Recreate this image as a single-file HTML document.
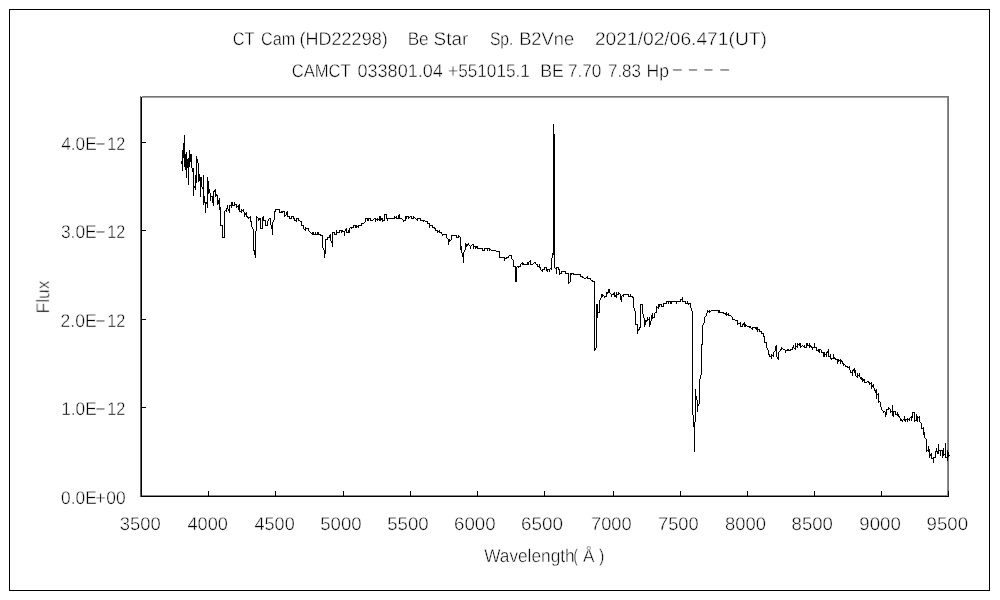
<!DOCTYPE html>
<html lang="en">
<head>
<meta charset="utf-8">
<title>CT Cam (HD22298) Be Star spectrum</title>
<style>
html,body{margin:0;padding:0;background:#fff;}
body{width:1000px;height:600px;overflow:hidden;}
svg{display:block;}
svg text{font-family:"Liberation Sans", "IPAGothic", sans-serif;font-size:18.4px;fill:#000;white-space:pre;stroke:#fff;stroke-width:0.45px;paint-order:fill stroke;text-rendering:geometricPrecision;}
</style>
</head>
<body>
<svg width="1000" height="600" viewBox="0 0 1000 600" shape-rendering="crispEdges">
<rect x="0" y="0" width="1000" height="600" fill="#fff"/>
<!-- outer chart border -->
<rect x="9.5" y="9.5" width="980" height="581" fill="#fff" stroke="#000" stroke-width="1"/>
<!-- plot area frame: grey top/right, black axes -->
<path d="M141 97.5H947" fill="none" stroke="#a2a2a2" stroke-width="1"/>
<path d="M947.5 97V496" fill="none" stroke="#8c8c8c" stroke-width="1"/>
<path d="M141.5 96.5H948.5V496.5" fill="none" stroke="#767676" stroke-width="1"/>
<path d="M140.5 96V497" fill="none" stroke="#606060" stroke-width="1"/>
<path d="M142 495.5H949" fill="none" stroke="#8a8a8a" stroke-width="1"/>
<path d="M141.5 96.5V496.5H949.0" fill="none" stroke="#000" stroke-width="1"/>
<path d="M141.5 496.5h4.5M141.5 407.5h4.5M141.5 319.5h4.5M141.5 230.5h4.5M141.5 142.5h4.5M141.5 496.5v-5.5M208.5 496.5v-5.5M275.5 496.5v-5.5M343.5 496.5v-5.5M410.5 496.5v-5.5M477.5 496.5v-5.5M544.5 496.5v-5.5M613.5 496.5v-5.5M680.5 496.5v-5.5M747.5 496.5v-5.5M814.5 496.5v-5.5M881.5 496.5v-5.5M948.5 496.5v-5.5" fill="none" stroke="#000" stroke-width="1"/>
<!-- spectrum -->
<path d="M181.5 161V164M182.5 150V171M183.5 143V158M184.5 135V167M185.5 154V170M186.5 152V178M187.5 159V168M188.5 158V185M189.5 150V167M190.5 154V162M191.5 154V168M192.5 168V172M193.5 168V196M194.5 186V188M195.5 175V190M196.5 156V183M197.5 159V163M198.5 163V182M199.5 174V181M200.5 177V197M201.5 177V187M202.5 187V189M203.5 175V205M204.5 196V203M205.5 202V213M206.5 202V204M207.5 177V208M208.5 181V194M209.5 189V193M210.5 193V201M211.5 196V197M212.5 196V203M213.5 191V206M214.5 190V192M215.5 189V197M216.5 194V196M217.5 195V205M218.5 200V204M219.5 198V210M220.5 207V226M221.5 225V226M222.5 225V238M223.5 237V238M224.5 211V238M225.5 210V211M226.5 208V212M227.5 205V209M228.5 209V211M229.5 205V213M230.5 205V206M231.5 202V208M232.5 202V206M233.5 205V206M234.5 202V206M235.5 204V205M236.5 204V208M237.5 206V207M238.5 205V210M239.5 204V212M240.5 211V212M241.5 209V213M242.5 210V211M243.5 209V212M244.5 212V217M245.5 213V215M246.5 212V217M247.5 216V218M248.5 217V219M249.5 217V218M250.5 216V222M251.5 221V227M252.5 227V229M253.5 229V251M254.5 250V255M255.5 231V258M256.5 216V231M257.5 217V218M258.5 218V221M259.5 218V220M260.5 218V229M261.5 228V229M262.5 217V229M263.5 216V221M264.5 220V221M265.5 220V226M266.5 225V226M267.5 221V226M268.5 219V221M269.5 218V219M270.5 218V225M271.5 225V229M272.5 222V235M273.5 220V222M274.5 211V220M275.5 209V212M276.5 209V210M277.5 209V210M278.5 209V210M279.5 209V213M280.5 212V213M281.5 211V213M282.5 211V213M283.5 211V212M284.5 211V217M285.5 215V216M286.5 212V215M287.5 211V217M288.5 216V217M289.5 216V219M290.5 218V219M291.5 216V219M292.5 216V217M293.5 216V219M294.5 218V221M295.5 220V221M296.5 218V222M297.5 218V219M298.5 218V221M299.5 220V221M300.5 221V222M301.5 221V226M302.5 225V226M303.5 225V229M304.5 229V230M305.5 227V231M306.5 228V229M307.5 228V229M308.5 228V231M309.5 231V232M310.5 232V233M311.5 233V234M312.5 232V235M313.5 232V235M314.5 234V235M315.5 232V235M316.5 234V235M317.5 232V235M318.5 232V235M319.5 234V235M320.5 234V236M321.5 235V236M322.5 235V248M323.5 248V250M324.5 250V258M325.5 239V254M326.5 239V240M327.5 237V240M328.5 237V238M329.5 235V238M330.5 234V241M331.5 241V243M332.5 232V247M333.5 232V233M334.5 232V235M335.5 234V235M336.5 230V235M337.5 232V233M338.5 232V233M339.5 230V233M340.5 230V231M341.5 230V233M342.5 230V232M343.5 231V232M344.5 231V236M345.5 229V231M346.5 228V233M347.5 232V233M348.5 230V233M349.5 228V233M350.5 227V228M351.5 227V229M352.5 227V228M353.5 225V228M354.5 225V226M355.5 225V228M356.5 225V228M357.5 226V227M358.5 225V228M359.5 225V226M360.5 225V226M361.5 223V226M362.5 223V224M363.5 223V224M364.5 222V223M365.5 218V222M366.5 218V219M367.5 218V221M368.5 218V221M369.5 218V219M370.5 218V221M371.5 220V221M372.5 220V221M373.5 219V220M374.5 218V219M375.5 218V222M376.5 219V220M377.5 218V221M378.5 219V220M379.5 216V221M380.5 216V221M381.5 218V220M382.5 218V222M383.5 220V221M384.5 214V221M385.5 214V215M386.5 214V219M387.5 218V221M388.5 218V219M389.5 218V219M390.5 218V219M391.5 218V219M392.5 218V219M393.5 218V219M394.5 216V219M395.5 217V218M396.5 216V219M397.5 218V219M398.5 215V219M399.5 214V219M400.5 218V219M401.5 218V219M402.5 219V220M403.5 220V222M404.5 220V221M405.5 216V221M406.5 216V219M407.5 216V217M408.5 216V219M409.5 217V218M410.5 216V217M411.5 216V219M412.5 218V219M413.5 216V219M414.5 217V218M415.5 218V219M416.5 219V220M417.5 218V221M418.5 218V219M419.5 218V219M420.5 218V221M421.5 220V221M422.5 220V221M423.5 220V222M424.5 220V221M425.5 221V222M426.5 221V222M427.5 221V224M428.5 223V224M429.5 223V228M430.5 225V226M431.5 225V226M432.5 225V228M433.5 227V228M434.5 227V229M435.5 228V231M436.5 230V231M437.5 230V233M438.5 231V232M439.5 230V233M440.5 232V233M441.5 232V234M442.5 234V236M443.5 234V235M444.5 234V235M445.5 234V235M446.5 234V238M447.5 238V239M448.5 239V245M449.5 239V242M450.5 240V241M451.5 235V240M452.5 235V236M453.5 235V236M454.5 235V236M455.5 235V236M456.5 235V238M457.5 237V238M458.5 235V238M459.5 236V237M460.5 237V250M461.5 246V253M462.5 253V257M463.5 252V263M464.5 250V252M465.5 243V250M466.5 244V247M467.5 244V246M468.5 243V245M469.5 245V246M470.5 246V249M471.5 245V246M472.5 244V245M473.5 244V249M474.5 246V247M475.5 246V249M476.5 246V248M477.5 246V249M478.5 248V249M479.5 248V249M480.5 248V249M481.5 248V249M482.5 248V251M483.5 250V251M484.5 248V251M485.5 248V249M486.5 248V249M487.5 248V251M488.5 248V249M489.5 248V251M490.5 249V250M491.5 250V251M492.5 250V251M493.5 250V251M494.5 250V251M495.5 250V251M496.5 251V252M497.5 251V252M498.5 251V252M499.5 251V258M500.5 257V258M501.5 257V258M502.5 257V258M503.5 257V258M504.5 257V261M505.5 258V259M506.5 257V259M507.5 257V258M508.5 256V258M509.5 255V256M510.5 255V256M511.5 255V259M512.5 259V260M513.5 260V267M514.5 266V267M515.5 266V282M516.5 267V282M517.5 266V267M518.5 266V268M519.5 266V267M520.5 264V267M521.5 263V264M522.5 262V265M523.5 263V265M524.5 264V265M525.5 264V265M526.5 264V265M527.5 262V265M528.5 262V265M529.5 261V262M530.5 260V265M531.5 264V265M532.5 264V265M533.5 263V264M534.5 262V263M535.5 262V264M536.5 264V265M537.5 264V267M538.5 266V267M539.5 264V268M540.5 267V270M541.5 270V271M542.5 269V272M543.5 269V270M544.5 267V270M545.5 267V268M546.5 267V271M547.5 269V272M548.5 269V270M549.5 269V272M550.5 268V269M551.5 258V270M552.5 253V258M553.5 124V255M554.5 134V268M555.5 268V269M556.5 267V274M557.5 267V268M558.5 267V270M559.5 269V275M560.5 273V274M561.5 271V274M562.5 271V272M563.5 271V272M564.5 271V272M565.5 271V274M566.5 273V274M567.5 273V274M568.5 273V284M569.5 282V283M570.5 273V282M571.5 273V275M572.5 273V274M573.5 273V275M574.5 274V275M575.5 274V275M576.5 274V275M577.5 274V275M578.5 274V275M579.5 274V275M580.5 274V277M581.5 276V277M582.5 276V278M583.5 277V278M584.5 278V279M585.5 278V279M586.5 277V278M587.5 276V279M588.5 278V279M589.5 278V279M590.5 278V280M591.5 280V281M592.5 280V282M593.5 281V282M594.5 281V351M595.5 348V350M596.5 304V348M597.5 304V318M598.5 312V313M599.5 300V313M600.5 298V300M601.5 294V298M602.5 294V297M603.5 295V296M604.5 296V298M605.5 296V297M606.5 292V297M607.5 292V294M608.5 289V293M609.5 289V293M610.5 293V294M611.5 294V297M612.5 294V295M613.5 293V295M614.5 292V297M615.5 295V297M616.5 292V298M617.5 294V295M618.5 292V295M619.5 293V294M620.5 294V300M621.5 296V302M622.5 295V296M623.5 294V297M624.5 294V295M625.5 294V295M626.5 294V295M627.5 294V295M628.5 294V297M629.5 296V297M630.5 294V297M631.5 296V297M632.5 296V298M633.5 297V308M634.5 308V311M635.5 311V325M636.5 324V325M637.5 324V334M638.5 329V331M639.5 327V330M640.5 304V328M641.5 304V305M642.5 304V314M643.5 314V318M644.5 318V327M645.5 320V325M646.5 320V322M647.5 317V321M648.5 319V320M649.5 317V327M650.5 321V325M651.5 315V321M652.5 313V319M653.5 317V318M654.5 313V318M655.5 312V313M656.5 306V313M657.5 307V308M658.5 304V309M659.5 304V307M660.5 304V305M661.5 304V307M662.5 306V307M663.5 303V307M664.5 303V304M665.5 303V304M666.5 301V304M667.5 301V302M668.5 301V304M669.5 301V302M670.5 301V304M671.5 301V304M672.5 301V302M673.5 301V302M674.5 301V302M675.5 301V302M676.5 301V304M677.5 301V302M678.5 301V302M679.5 301V302M680.5 299V302M681.5 299V300M682.5 297V302M683.5 301V302M684.5 301V302M685.5 301V304M686.5 303V304M687.5 301V304M688.5 303V305M689.5 303V304M690.5 303V308M691.5 308V311M692.5 311V415M693.5 415V427M694.5 422V452M695.5 389V422M696.5 396V400M697.5 400V412M698.5 404V406M699.5 379V404M700.5 375V379M701.5 344V375M702.5 325V345M703.5 323V325M704.5 317V323M705.5 316V317M706.5 313V316M707.5 310V313M708.5 311V312M709.5 310V313M710.5 311V312M711.5 310V311M712.5 310V311M713.5 310V311M714.5 310V311M715.5 310V311M716.5 310V311M717.5 310V311M718.5 310V313M719.5 310V313M720.5 312V313M721.5 312V313M722.5 312V313M723.5 312V314M724.5 313V314M725.5 313V315M726.5 312V316M727.5 314V315M728.5 313V316M729.5 315V316M730.5 315V316M731.5 316V317M732.5 317V320M733.5 319V320M734.5 319V320M735.5 320V321M736.5 320V321M737.5 320V325M738.5 323V324M739.5 323V324M740.5 322V327M741.5 326V327M742.5 324V327M743.5 323V325M744.5 322V327M745.5 324V327M746.5 325V326M747.5 326V327M748.5 326V327M749.5 326V328M750.5 326V328M751.5 328V329M752.5 327V330M753.5 327V328M754.5 327V328M755.5 327V329M756.5 327V330M757.5 327V332M758.5 329V330M759.5 329V332M760.5 331V332M761.5 331V334M762.5 333V334M763.5 333V337M764.5 336V343M765.5 342V343M766.5 342V348M767.5 348V350M768.5 350V355M769.5 354V357M770.5 356V357M771.5 354V359M772.5 355V356M773.5 352V357M774.5 351V352M775.5 346V351M776.5 345V357M777.5 357V359M778.5 352V360M779.5 351V352M780.5 349V351M781.5 347V350M782.5 348V349M783.5 349V350M784.5 349V350M785.5 350V353M786.5 350V351M787.5 349V351M788.5 349V351M789.5 350V351M790.5 349V351M791.5 349V350M792.5 347V350M793.5 345V348M794.5 348V349M795.5 343V350M796.5 346V347M797.5 343V348M798.5 344V345M799.5 343V346M800.5 343V348M801.5 346V347M802.5 345V346M803.5 346V347M804.5 345V348M805.5 347V348M806.5 343V348M807.5 343V346M808.5 345V346M809.5 343V348M810.5 345V347M811.5 346V348M812.5 347V350M813.5 347V348M814.5 343V348M815.5 347V348M816.5 347V351M817.5 350V351M818.5 349V352M819.5 349V353M820.5 349V350M821.5 350V353M822.5 352V353M823.5 352V357M824.5 352V357M825.5 354V355M826.5 352V357M827.5 351V353M828.5 349V357M829.5 356V357M830.5 354V359M831.5 358V360M832.5 358V359M833.5 354V359M834.5 357V359M835.5 358V360M836.5 359V360M837.5 359V364M838.5 359V362M839.5 360V361M840.5 359V364M841.5 360V362M842.5 361V364M843.5 363V366M844.5 364V365M845.5 365V367M846.5 366V367M847.5 366V368M848.5 367V368M849.5 366V370M850.5 370V373M851.5 372V373M852.5 370V376M853.5 369V371M854.5 368V373M855.5 370V376M856.5 376V377M857.5 373V378M858.5 375V376M859.5 373V377M860.5 377V379M861.5 377V380M862.5 378V382M863.5 379V381M864.5 379V383M865.5 382V383M866.5 382V383M867.5 381V382M868.5 381V383M869.5 382V385M870.5 383V384M871.5 382V389M872.5 385V387M873.5 384V388M874.5 388V391M875.5 390V393M876.5 389V399M877.5 394V395M878.5 393V403M879.5 401V402M880.5 402V407M881.5 407V410M882.5 410V411M883.5 411V413M884.5 411V412M885.5 412V417M886.5 409V415M887.5 409V410M888.5 407V410M889.5 408V409M890.5 409V413M891.5 411V412M892.5 405V416M893.5 411V417M894.5 411V412M895.5 411V415M896.5 414V415M897.5 412V416M898.5 414V417M899.5 416V418M900.5 418V421M901.5 419V421M902.5 420V422M903.5 419V420M904.5 416V421M905.5 419V422M906.5 419V420M907.5 418V422M908.5 419V420M909.5 418V421M910.5 417V418M911.5 416V421M912.5 412V418M913.5 412V413M914.5 412V422M915.5 420V421M916.5 414V421M917.5 416V422M918.5 417V418M919.5 416V422M920.5 422V423M921.5 423V429M922.5 428V429M923.5 427V435M924.5 432V438M925.5 438V439M926.5 439V452M927.5 450V451M928.5 446V452M929.5 449V458M930.5 454V456M931.5 453V459M932.5 458V459M933.5 457V463M934.5 457V458M935.5 451V458M936.5 448V452M937.5 451V454M938.5 444V454M939.5 450V451M940.5 450V456M941.5 450V451M942.5 450V458M943.5 448V456M944.5 454V455M945.5 443V458M946.5 457V458M947.5 450V461M948.5 452V457M949.5 455V456" fill="none" stroke="#000" stroke-width="1"/>
<!-- labels -->
<g class="lbl" opacity="0.999"><text y="45"><tspan x="232.78" textLength="21.44" lengthAdjust="spacingAndGlyphs">CT</tspan> <tspan x="261.07" textLength="34.30" lengthAdjust="spacingAndGlyphs">Cam</tspan> <tspan x="299.47" textLength="88.24" lengthAdjust="spacingAndGlyphs">(HD22298)</tspan> <tspan x="407.63" textLength="21.08" lengthAdjust="spacingAndGlyphs">Be</tspan> <tspan x="433.54" textLength="34.76" lengthAdjust="spacingAndGlyphs">Star</tspan> <tspan x="489.89" textLength="23.56" lengthAdjust="spacingAndGlyphs">Sp.</tspan> <tspan x="519.14" textLength="55.03" lengthAdjust="spacingAndGlyphs">B2Vne</tspan> <tspan x="594.92" textLength="172.01" lengthAdjust="spacingAndGlyphs">2021/02/06.471(UT)</tspan></text>
<text y="77"><tspan x="291.65" textLength="58.80" lengthAdjust="spacingAndGlyphs">CAMCT</tspan> <tspan x="357.48" textLength="85.43" lengthAdjust="spacingAndGlyphs">033801.04</tspan> <tspan x="448.12" textLength="81.74" lengthAdjust="spacingAndGlyphs">+551015.1</tspan> <tspan x="540.19" textLength="23.59" lengthAdjust="spacingAndGlyphs">BE</tspan> <tspan x="567.92" textLength="33.42" lengthAdjust="spacingAndGlyphs">7.70</tspan> <tspan x="607.93" textLength="33.10" lengthAdjust="spacingAndGlyphs">7.83</tspan> <tspan x="646.60" textLength="22.50" lengthAdjust="spacingAndGlyphs">Hp</tspan> <tspan x="670.95" dy="-2.2" textLength="12.81" lengthAdjust="spacingAndGlyphs">-</tspan> <tspan x="687.06" textLength="11.99" lengthAdjust="spacingAndGlyphs">-</tspan> <tspan x="702.46" textLength="11.99" lengthAdjust="spacingAndGlyphs">-</tspan> <tspan x="718.25" textLength="12.81" lengthAdjust="spacingAndGlyphs">-</tspan></text>
<text x="119.67" y="530" textLength="41.02" lengthAdjust="spacingAndGlyphs">3500</text>
<text x="187.49" y="530" textLength="40.49" lengthAdjust="spacingAndGlyphs">4000</text>
<text x="254.59" y="530" textLength="40.08" lengthAdjust="spacingAndGlyphs">4500</text>
<text x="320.26" y="530" textLength="41.43" lengthAdjust="spacingAndGlyphs">5000</text>
<text x="387.26" y="530" textLength="41.43" lengthAdjust="spacingAndGlyphs">5500</text>
<text x="454.04" y="530" textLength="41.65" lengthAdjust="spacingAndGlyphs">6000</text>
<text x="521.03" y="530" textLength="42.07" lengthAdjust="spacingAndGlyphs">6500</text>
<text x="591.07" y="530" textLength="40.61" lengthAdjust="spacingAndGlyphs">7000</text>
<text x="658.07" y="530" textLength="40.61" lengthAdjust="spacingAndGlyphs">7500</text>
<text x="724.96" y="530" textLength="40.92" lengthAdjust="spacingAndGlyphs">8000</text>
<text x="791.56" y="530" textLength="41.33" lengthAdjust="spacingAndGlyphs">8500</text>
<text x="859.35" y="530" textLength="41.54" lengthAdjust="spacingAndGlyphs">9000</text>
<text x="926.55" y="530" textLength="41.54" lengthAdjust="spacingAndGlyphs">9500</text>
<text y="562"><tspan x="484.15" textLength="90.51" lengthAdjust="spacingAndGlyphs">Wavelength</tspan><tspan x="573.39" textLength="4.33" lengthAdjust="spacingAndGlyphs">(</tspan><tspan x="583.10" textLength="11.44" lengthAdjust="spacingAndGlyphs">Å</tspan><tspan x="599.11" textLength="5.36" lengthAdjust="spacingAndGlyphs">)</tspan></text>
<text y="504"><tspan x="61.11" textLength="35.58" lengthAdjust="spacingAndGlyphs">0.0E</tspan><tspan x="95.27" textLength="10.64" lengthAdjust="spacingAndGlyphs">+</tspan><tspan x="106.31" textLength="19.36" lengthAdjust="spacingAndGlyphs">00</tspan></text>
<text y="415"><tspan x="61.23" textLength="35.47" lengthAdjust="spacingAndGlyphs">1.0E</tspan><tspan x="94.56" dy="-1.4" textLength="11.99" lengthAdjust="spacingAndGlyphs">-</tspan><tspan x="107.20" dy="1.4" textLength="18.11" lengthAdjust="spacingAndGlyphs">12</tspan></text>
<text y="327"><tspan x="60.60" textLength="36.10" lengthAdjust="spacingAndGlyphs">2.0E</tspan><tspan x="94.56" dy="-1.4" textLength="11.99" lengthAdjust="spacingAndGlyphs">-</tspan><tspan x="107.20" dy="1.4" textLength="18.11" lengthAdjust="spacingAndGlyphs">12</tspan></text>
<text y="238"><tspan x="60.91" textLength="35.79" lengthAdjust="spacingAndGlyphs">3.0E</tspan><tspan x="94.56" dy="-1.4" textLength="11.99" lengthAdjust="spacingAndGlyphs">-</tspan><tspan x="107.20" dy="1.4" textLength="18.00" lengthAdjust="spacingAndGlyphs">12</tspan></text>
<text y="150"><tspan x="61.21" textLength="35.48" lengthAdjust="spacingAndGlyphs">4.0E</tspan><tspan x="94.56" dy="-1.4" textLength="11.99" lengthAdjust="spacingAndGlyphs">-</tspan><tspan x="107.20" dy="1.4" textLength="18.00" lengthAdjust="spacingAndGlyphs">12</tspan></text>
<text transform="translate(49.2 311.9) rotate(-90)" x="-1.38" y="0" textLength="32.72" lengthAdjust="spacingAndGlyphs">Flux</text></g>
</svg>
</body>
</html>
